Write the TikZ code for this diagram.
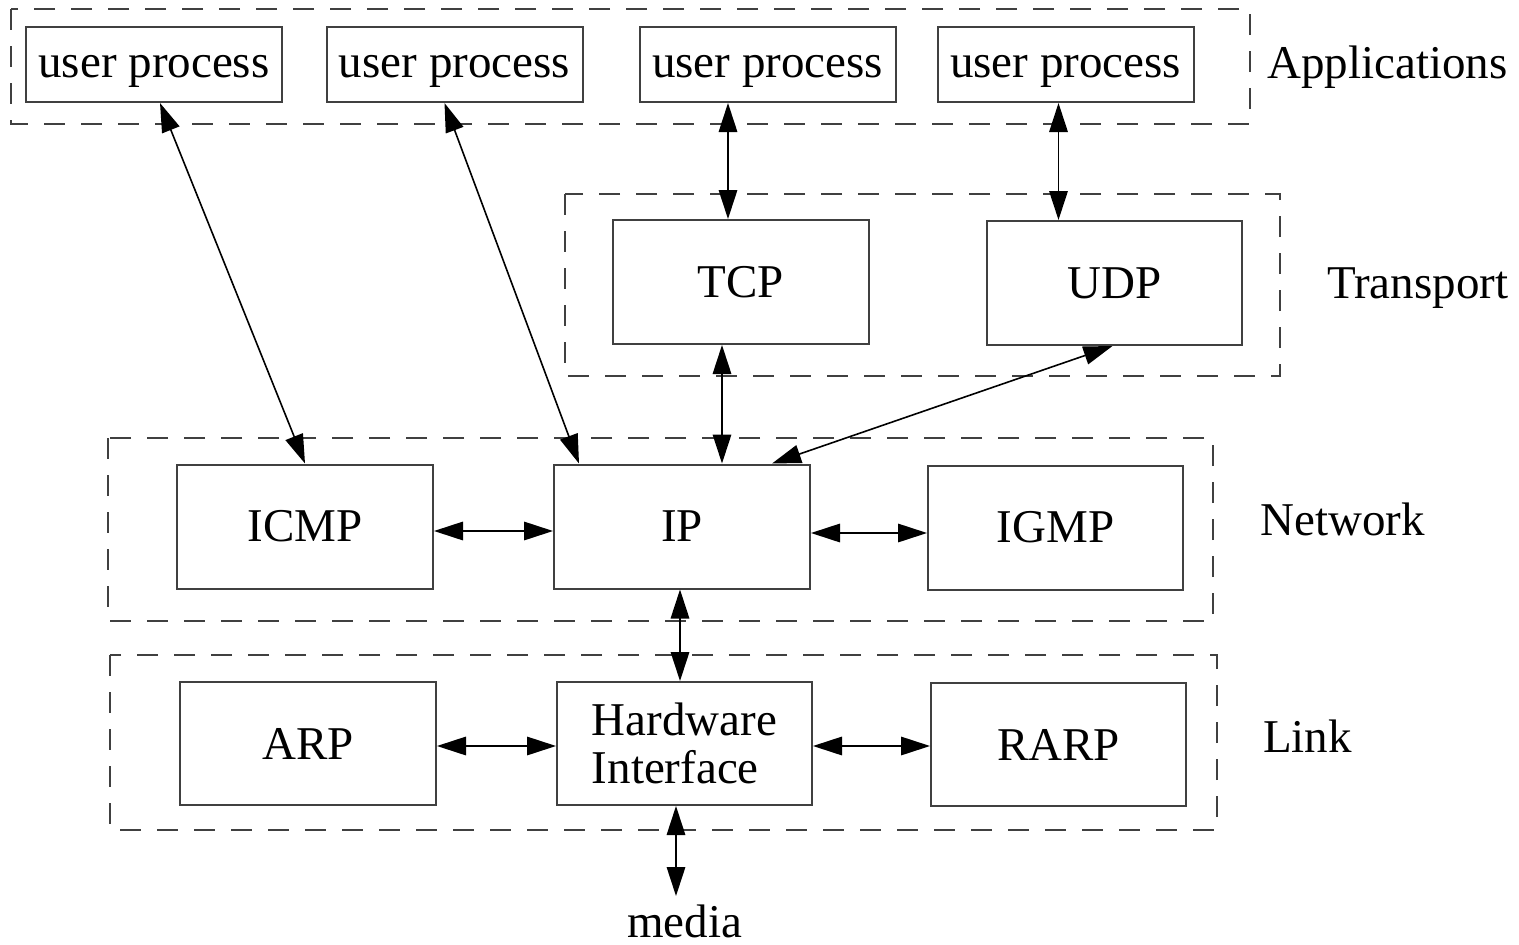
\documentclass[tikz,border=0pt]{standalone}
\usepackage{fontspec}
\setmainfont{Liberation Serif}
\usetikzlibrary{arrows.meta,calc}
\begin{document}
\begin{tikzpicture}[x=1pt,y=-1pt,
  box/.style={draw=black!75,line width=2pt,inner sep=0pt,minimum width=256pt,minimum height=124pt,font=\fontsize{47}{48}\selectfont},
  ubox/.style={box,minimum height=75pt,text height=35pt,text depth=9pt},
  layer/.style={draw=black!75,line width=2pt,dash pattern=on 21pt off 16pt},
  lbl/.style={anchor=base west,inner sep=0pt,font=\fontsize{47}{48}\selectfont},
  conn/.style={line width=1.6pt,{Triangle[length=29pt,width=18.5pt]}-{Triangle[length=29pt,width=18.5pt]}}]
\useasboundingbox (0,0) rectangle (1519,945);
% layers
\draw[layer] (11,9) rectangle (1250,124);
\draw[layer] (565,194) rectangle (1280,376);
\draw[layer] (108,438) rectangle (1213,621);
\draw[layer] (110,655) rectangle (1217,830);
% nodes
\node[ubox] (u1) at (154,64.5) {user process};
\node[ubox] (u2) at (454.5,64.5) {user process};
\node[ubox] (u3) at (767.5,64.5) {user process};
\node[ubox] (u4) at (1065.5,64.5) {user process};
\node[box] (tcp) at (741,282) {TCP};
\node[box,minimum width=255pt] (udp) at (1114.5,283) {UDP};
\node[box] (icmp) at (305,526.5) {ICMP};
\node[box] (ip) at (682,526.5) {IP};
\node[box,minimum width=255pt] (igmp) at (1055.5,527.5) {IGMP};
\node[box,minimum height=123pt] (arp) at (308,743.5) {ARP};
\node[box,minimum width=255pt,minimum height=123pt,align=left] (hw) at (684.5,743.5) {\raisebox{3pt}{Hardware}\\[-3pt]Interface};
\node[box,minimum width=255pt,minimum height=123pt] (rarp) at (1058.5,744.5) {RARP};
\node[lbl] (media) at (627,937) {media};
\coordinate (mediatop) at (676,896);
% labels
\node[lbl] (lapp) at (1267,78) {Applications};
\node[lbl] (ltr) at (1327,298) {Transport};
\node[lbl] (lnet) at (1260,535) {Network};
\node[lbl] (llink) at (1263,752) {Link};
% connectors
\draw[conn] ([xshift=6pt]u1.south) -- (icmp.north);
\draw[conn] ([xshift=-10pt]u2.south) -- ([xshift=26pt]ip.north west);
\draw[conn] ([xshift=-13pt]tcp.north |- u3.south) -- ([xshift=-13pt]tcp.north);
\draw[conn] ([xshift=-7pt]u4.south) -- ([xshift=-7pt]u4.south |- udp.north);
\draw[conn] ([xshift=-19pt]tcp.south) -- ([xshift=-19pt]tcp.south |- ip.north);
\draw[conn] ([xshift=-2pt]udp.south) -- ([xshift=90pt]ip.north);
\draw[conn] ([yshift=-4.5pt]icmp.east) -- ([yshift=-4.5pt]icmp.east -| ip.west);
\draw[conn] ([yshift=-6.5pt]ip.east) -- ([yshift=-6.5pt]ip.east -| igmp.west);
\draw[conn] ([xshift=-2pt]ip.south) -- ([xshift=-2pt]ip.south |- hw.north);
\draw[conn] ([yshift=-2.5pt]arp.east) -- ([yshift=-2.5pt]arp.east -| hw.west);
\draw[conn] ([yshift=-2.5pt]hw.east) -- ([yshift=-2.5pt]hw.east -| rarp.west);
\draw[conn] (hw.south -| mediatop) -- (mediatop);
\end{tikzpicture}
\end{document}
